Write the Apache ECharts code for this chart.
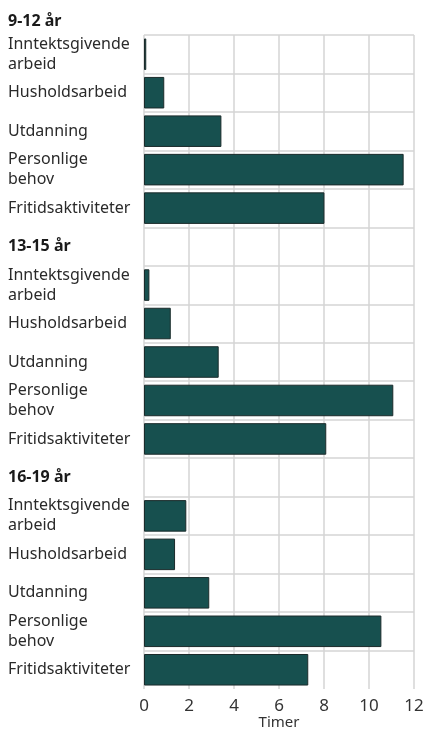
<!DOCTYPE html>
<html><head><meta charset="utf-8">
<script src="https://cdn.jsdelivr.net/npm/echarts@6/dist/echarts.min.js"></script>
<style>html,body{margin:0;padding:0;background:#fff}#c{width:426px;height:730px}</style>
</head><body><div id="c"></div>
<script>
const groups = ['9-12 år', '13-15 år', '16-19 år'];
const categories = ['Inntektsgivende\narbeid', 'Husholdsarbeid', 'Utdanning', 'Personlige\nbehov', 'Fritidsaktiviteter'];
const values_9_12 = [0.1, 0.9, 3.44, 11.54, 8.02];
const values_13_15 = [0.24, 1.19, 3.32, 11.08, 8.1];
const values_16_19 = [1.88, 1.38, 2.9, 10.55, 7.3];
const xTicks = [0, 2, 4, 6, 8, 10, 12];

const groupValues = [values_9_12, values_13_15, values_16_19];
const yLabels = [];
const seriesData = [];
groupValues.forEach((vals, g) => {
  if (g > 0) { yLabels.push('{h|' + groups[g] + '}'); seriesData.push(null); }
  categories.forEach((c, i) => { yLabels.push(c); seriesData.push(vals[i]); });
});

const FONT = 'Noto Sans';
const chart = echarts.init(document.getElementById('c'));
chart.setOption({
  animation: false,
  textStyle: { fontFamily: FONT },
  title: { text: groups[0], left: 3, top: 8, textStyle: { fontFamily: FONT, fontSize: 16, fontWeight: 'bold', color: '#1a1a1a' } },
  grid: { left: 144, right: 12, top: 35, bottom: 41, outerBoundsMode: 'none', containLabel: false },
  xAxis: {
    type: 'value', min: xTicks[0], max: xTicks[xTicks.length - 1], interval: 2,
    axisLine: { show: false }, axisTick: { show: false },
    axisLabel: { fontSize: 17, color: '#333', margin: 9, fontFamily: FONT },
    splitLine: { show: true, lineStyle: { color: '#d4d4d4', width: 1.5 } },
    name: 'Timer', nameLocation: 'middle', nameGap: 26, nameMoveOverlap: false,
    nameTextStyle: { fontSize: 15, color: '#333', fontFamily: FONT }
  },
  yAxis: {
    type: 'category', inverse: true, data: yLabels,
    axisLine: { show: false }, axisTick: { show: false },
    axisLabel: {
      align: 'left', margin: 136, fontSize: 16, lineHeight: 20, color: '#2a2a2a', fontFamily: FONT,
      rich: { h: { fontWeight: 'bold', fontSize: 16, color: '#1a1a1a', fontFamily: FONT } }
    },
    splitLine: { show: true, showMaxLine: false, lineStyle: { color: '#d4d4d4', width: 1.5 } }
  },
  series: [{
    type: 'bar', data: seriesData, barCategoryGap: '18%',
    itemStyle: { color: '#17504f', borderColor: '#1b2b2b', borderWidth: 1 }
  }]
});
</script></body></html>
